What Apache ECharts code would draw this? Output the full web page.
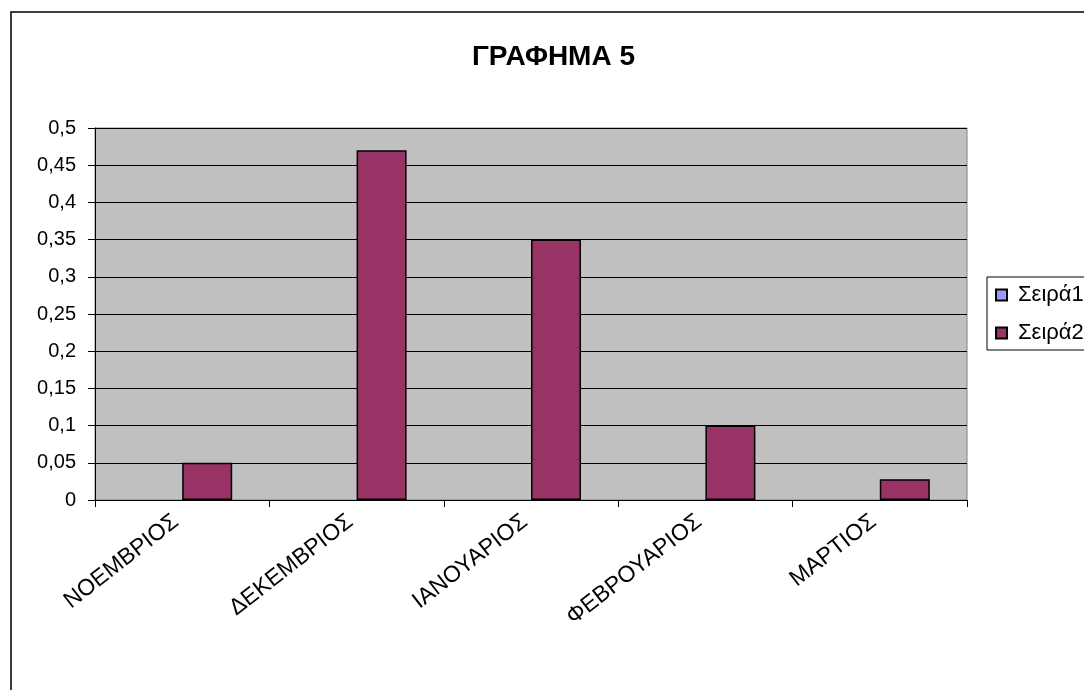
<!DOCTYPE html>
<html>
<head>
<meta charset="utf-8">
<script src="https://cdn.jsdelivr.net/npm/echarts@6/dist/echarts.min.js"></script>
<style>html,body{margin:0;padding:0;background:#fff;}#c{width:1084px;height:690px;}</style>
</head>
<body>
<div id="c"></div>
<script>
const titleText = 'ΓΡΑΦΗΜΑ 5';
const categories = ['ΝΟΕΜΒΡΙΟΣ', 'ΔΕΚΕΜΒΡΙΟΣ', 'ΙΑΝΟΥΑΡΙΟΣ', 'ΦΕΒΡΟΥΑΡΙΟΣ', 'ΜΑΡΤΙΟΣ'];
const seriesNames = ['Σειρά1', 'Σειρά2'];
const series1 = [null, null, null, null, null];
const series2 = [0.05, 0.47, 0.35, 0.1, 0.028];

const chart = echarts.init(document.getElementById('c'), null, {renderer: 'canvas'});
const font = 'Liberation Sans, Arial, sans-serif';
chart.setOption({
  animation: false,
  backgroundColor: '#ffffff',
  textStyle: {fontFamily: font},
  graphic: [{
    type: 'rect',
    shape: {x: 11, y: 12, width: 1200, height: 800},
    style: {fill: 'none', stroke: '#000', lineWidth: 1.5},
    silent: true
  }],
  title: {
    text: titleText,
    left: 467,
    top: 38,
    textStyle: {fontFamily: font, fontSize: 28, fontWeight: 'bold', color: '#000'}
  },
  legend: {
    orient: 'vertical',
    left: 987,
    top: 277,
    padding: [7, 30, 6, 8],
    borderColor: '#000',
    borderWidth: 1,
    itemWidth: 11,
    itemHeight: 11,
    itemGap: 16,
    icon: 'rect',
    textStyle: {fontFamily: font, fontSize: 22, color: '#000', padding: [0, 0, 0, 6]},
    data: seriesNames
  },
  grid: {
    left: 95, top: 128, right: 117, bottom: 190,
    show: true, backgroundColor: '#C0C0C0', borderColor: '#808080', borderWidth: 1
  },
  xAxis: {
    type: 'category',
    data: categories,
    boundaryGap: true,
    axisLine: {lineStyle: {color: '#000', width: 1}},
    axisTick: {show: true, length: 7, lineStyle: {color: '#000'}},
    axisLabel: {rotate: 38, fontSize: 23, color: '#000', fontFamily: font, margin: 14, interval: 0, padding: [0, 8, 0, 0]}
  },
  yAxis: {
    type: 'value',
    min: 0, max: 0.5, interval: 0.05,
    axisLine: {show: true, lineStyle: {color: '#000', width: 1}},
    axisTick: {show: true, length: 7, lineStyle: {color: '#000'}},
    axisLabel: {
      fontSize: 20, color: '#000', fontFamily: font, margin: 19,
      formatter: v => String(Math.round(v * 100) / 100).replace('.', ',')
    },
    splitLine: {show: true, lineStyle: {color: '#000', width: 1}}
  },
  series: [
    {
      name: seriesNames[0], type: 'bar', data: series1, barWidth: 50, barGap: '0%',
      itemStyle: {color: '#9999FF', borderColor: '#000', borderWidth: 1.5}
    },
    {
      name: seriesNames[1], type: 'bar', data: series2, barWidth: 50, barGap: '0%',
      itemStyle: {color: '#993366', borderColor: '#000', borderWidth: 1.5}
    }
  ]
});
</script>
</body>
</html>
